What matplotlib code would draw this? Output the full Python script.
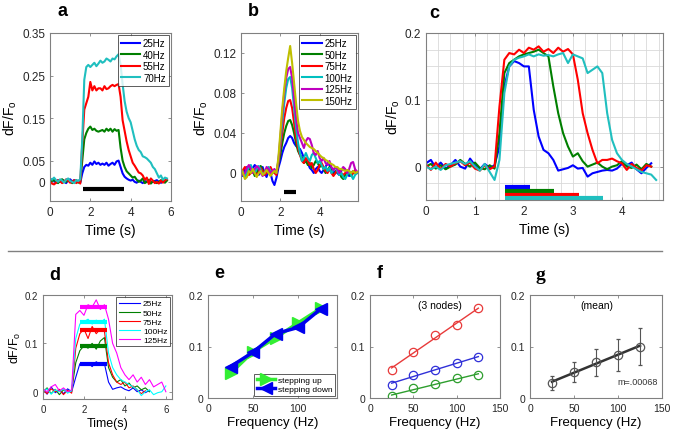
import numpy as np
import matplotlib
matplotlib.use('Agg')
import matplotlib.pyplot as plt
from matplotlib.lines import Line2D
from matplotlib.ticker import FormatStrFormatter

plt.rcParams['font.family'] = ['Liberation Sans', 'DejaVu Sans']
plt.rcParams['mathtext.fontset'] = 'custom'
plt.rcParams['mathtext.rm'] = 'Liberation Sans'
plt.rcParams['mathtext.it'] = 'Liberation Sans:italic'

# ---- panel a : long trains, 0.1 s samples ----
a_labels = ['25Hz', '40Hz', '55Hz', '70Hz']
a_colors = ['#0000ff', '#007f00', '#ff0000', '#20bfbf']
a_dt = 0.1
a_25 = [0.003, 0.006, 0.002, -0.002, 0.004, 0.000, 0.005, 0.002, -0.003, 0.004, 0.006, 0.001, 0.004, 0.000, 0.003, -0.002,
        0.020, 0.035, 0.040, 0.038, 0.045, 0.040, 0.048, 0.042, 0.045, 0.040, 0.043, 0.040, 0.045, 0.038, 0.042, 0.045,
        0.040, 0.048, 0.050, 0.035, 0.020, 0.012, 0.008, 0.005, 0.003, 0.005, 0.000, -0.002, 0.003, 0.000, -0.003, 0.002,
        0.000, 0.003, -0.002, 0.000, 0.002, 0.004, 0.000, -0.002]
a_40 = [-0.002, 0.002, 0.005, 0.000, -0.003, 0.003, 0.006, 0.002, 0.000, 0.005, 0.002, -0.003, 0.001, 0.004, -0.002, 0.000,
        0.050, 0.100, 0.115, 0.125, 0.130, 0.122, 0.125, 0.120, 0.118, 0.120, 0.122, 0.118, 0.125, 0.120, 0.125, 0.118,
        0.124, 0.120, 0.122, 0.080, 0.050, 0.035, 0.025, 0.020, 0.015, 0.010, 0.012, 0.005, 0.000, 0.003, 0.008, -0.003,
        0.000, 0.005, -0.004, 0.002, 0.000, -0.003, 0.000, 0.004, 0.002, -0.002, 0.003]
a_55 = [0.000, -0.004, -0.006, -0.002, 0.004, 0.002, -0.003, 0.000, 0.006, 0.003, -0.002, 0.000, 0.004, -0.003, 0.002, -0.004,
        0.090, 0.170, 0.185, 0.200, 0.235, 0.215, 0.225, 0.215, 0.220, 0.220, 0.215, 0.225, 0.218, 0.220, 0.225, 0.228,
        0.225, 0.228, 0.230, 0.200, 0.145, 0.120, 0.095, 0.075, 0.060, 0.045, 0.038, 0.030, 0.022, 0.020, 0.015, 0.005,
        0.010, -0.005, 0.008, 0.003, -0.003, 0.000, -0.004, 0.003, -0.002, 0.004, 0.006]
a_70 = [0.008, 0.005, 0.010, 0.004, 0.000, 0.006, 0.003, -0.002, 0.005, 0.008, 0.002, 0.000, -0.003, 0.004, 0.002, 0.006,
        0.100, 0.240, 0.270, 0.275, 0.270, 0.275, 0.280, 0.272, 0.278, 0.285, 0.280, 0.283, 0.290, 0.287, 0.283, 0.290,
        0.288, 0.295, 0.300, 0.275, 0.230, 0.190, 0.165, 0.150, 0.140, 0.120, 0.100, 0.085, 0.075, 0.070, 0.060, 0.058,
        0.055, 0.050, 0.045, 0.035, 0.030, 0.020, 0.010, 0.015, 0.005, 0.010, 0.008]
a_stim = (1.65, 3.65)

# ---- panel b : short trains, 0.1 s samples ----
b_labels = ['25Hz', '50Hz', '75Hz', '100Hz', '125Hz', '150Hz']
b_colors = ['#0000ff', '#007f00', '#ff0000', '#00bfbf', '#bf00bf', '#bfbf00']
b_dt = 0.1
b_25 = [0.000, -0.003, 0.003, 0.006, 0.004, 0.000, 0.005, 0.008, 0.004, -0.002, 0.003, 0.006, 0.000, -0.004, 0.002, 0.000,
        -0.008, -0.012, -0.005, 0.005, 0.012, 0.020, 0.026, 0.030, 0.035, 0.037, 0.035, 0.030, 0.027, 0.025, 0.024, 0.020,
        0.015, 0.012, 0.010, 0.005, 0.003, 0.000, 0.004, 0.006, 0.002, 0.000, 0.003, 0.006, 0.010, 0.008, 0.004, 0.000,
        0.002, 0.000, -0.002, 0.002, 0.005, 0.003, 0.000, -0.003, 0.000, 0.002, 0.000, 0.001]
b_50 = [0.002, 0.000, -0.004, 0.000, 0.004, 0.006, 0.002, -0.003, 0.000, 0.004, 0.007, 0.003, 0.000, 0.004, 0.002, -0.002,
        0.000, 0.003, 0.000, 0.008, 0.018, 0.030, 0.040, 0.047, 0.052, 0.053, 0.048, 0.040, 0.030, 0.022, 0.018, 0.015,
        0.010, 0.012, 0.008, 0.010, 0.005, 0.008, 0.012, 0.010, 0.006, 0.008, 0.004, 0.000, 0.003, 0.006, 0.002, -0.002,
        0.000, 0.004, 0.002, -0.004, -0.006, -0.002, 0.002, 0.000, -0.003, 0.000, 0.002, 0.000]
b_75 = [0.000, 0.003, 0.006, 0.002, -0.002, 0.000, 0.004, 0.002, -0.003, 0.000, 0.005, 0.002, -0.002, 0.000, 0.004, 0.006,
        0.002, 0.000, -0.002, 0.010, 0.025, 0.040, 0.055, 0.065, 0.072, 0.073, 0.065, 0.050, 0.035, 0.025, 0.018, 0.012,
        0.010, 0.015, 0.012, 0.008, 0.010, 0.004, 0.000, 0.003, 0.008, 0.010, 0.006, 0.002, 0.000, 0.004, 0.000, -0.003,
        0.000, 0.004, 0.002, 0.000, -0.002, 0.000, 0.003, 0.001, -0.002, 0.000, 0.003, 0.001]
b_100 = [0.003, 0.000, -0.004, 0.002, 0.006, 0.008, 0.003, 0.000, 0.004, 0.007, 0.003, -0.002, 0.000, 0.004, 0.006, 0.002,
         0.000, 0.003, 0.000, 0.012, 0.030, 0.050, 0.070, 0.085, 0.094, 0.096, 0.085, 0.065, 0.045, 0.030, 0.020, 0.012,
         0.015, 0.020, 0.015, 0.012, 0.018, 0.020, 0.015, 0.010, 0.012, 0.008, 0.004, 0.006, 0.002, 0.005, 0.000, 0.003,
         0.006, 0.002, -0.002, 0.000, -0.004, -0.006, -0.002, 0.002, -0.002, -0.006, -0.002, 0.000]
b_125 = [0.002, -0.002, 0.000, 0.005, 0.008, 0.004, 0.000, 0.004, 0.007, 0.005, 0.000, -0.003, 0.000, 0.006, 0.004, 0.000,
         0.002, 0.004, 0.000, 0.012, 0.035, 0.060, 0.080, 0.095, 0.104, 0.106, 0.095, 0.075, 0.055, 0.040, 0.035, 0.030,
         0.025, 0.032, 0.035, 0.034, 0.028, 0.020, 0.018, 0.022, 0.015, 0.012, 0.015, 0.010, 0.008, 0.012, 0.006, 0.003,
         0.006, 0.004, 0.000, 0.003, 0.006, 0.004, 0.000, 0.004, 0.010, 0.011, 0.004, 0.001]
b_150 = [0.004, 0.000, -0.006, -0.004, 0.002, 0.000, 0.004, 0.000, -0.004, 0.000, 0.002, -0.002, 0.000, 0.003, 0.000, -0.003,
         0.000, 0.002, 0.000, 0.015, 0.040, 0.065, 0.085, 0.102, 0.115, 0.127, 0.110, 0.090, 0.070, 0.052, 0.042, 0.036,
         0.033, 0.030, 0.028, 0.026, 0.025, 0.024, 0.022, 0.020, 0.018, 0.016, 0.015, 0.013, 0.012, 0.010, 0.009, 0.008,
         0.006, 0.006, 0.004, 0.004, 0.003, 0.002, 0.003, 0.002, 0.000, 0.002, 0.000, 0.001]
b_stim = (2.2, 2.8)

# ---- panel c : one node, different train lengths ----
c_colors = ['#0000ff', '#007f00', '#ff0000', '#20bfbf']
c_dt = 0.1
c_blue = [0.005, 0.010, -0.002, 0.006, -0.003, 0.002, 0.010, 0.000, -0.003, 0.012, 0.002, -0.004, 0.004, -0.002, 0.002,
          0.030, 0.120, 0.150, 0.158, 0.155, 0.150, 0.150, 0.085, 0.045, 0.025, 0.020, 0.010, -0.006, -0.004, -0.002,
          0.002, -0.003, -0.002, -0.015, -0.010, -0.008, -0.006, -0.005, -0.006, -0.003, 0.004, 0.002, 0.006, -0.004,
          -0.010, -0.002, 0.005]
c_green = [0.000, 0.004, -0.003, 0.002, -0.004, 0.000, 0.003, 0.010, 0.004, 0.000, 0.006, -0.002, -0.004, 0.002, -0.003,
           0.050, 0.140, 0.155, 0.160, 0.165, 0.168, 0.170, 0.172, 0.175, 0.170, 0.165, 0.120, 0.080, 0.050, 0.030,
           0.015, 0.020, 0.008, 0.000, 0.003, 0.006, 0.000, -0.004, 0.000, 0.002, 0.008, 0.000, -0.002, 0.003, -0.004,
           0.004, 0.000]
c_red = [0.003, -0.005, 0.006, -0.004, 0.004, 0.000, 0.005, 0.008, 0.002, 0.006, -0.003, -0.006, 0.002, -0.004, 0.000,
         0.090, 0.160, 0.170, 0.168, 0.175, 0.170, 0.178, 0.175, 0.180, 0.172, 0.176, 0.170, 0.178, 0.172, 0.176,
         0.168, 0.130, 0.080, 0.050, 0.025, 0.005, 0.010, 0.010, 0.012, 0.008, 0.005, -0.005, 0.004, -0.002, -0.006,
         0.002, 0.000]
c_cyan = [0.000, -0.004, 0.000, -0.005, 0.002, 0.004, 0.006, 0.008, 0.004, 0.008, 0.000, -0.006, 0.004, -0.008, -0.020,
          0.010, 0.110, 0.150, 0.160, 0.163, 0.165, 0.168, 0.165, 0.168, 0.166, 0.167, 0.165, 0.168, 0.170, 0.155,
          0.168, 0.165, 0.162, 0.140, 0.145, 0.150, 0.140, 0.080, 0.040, 0.020, 0.010, 0.004, 0.000, -0.004, -0.008,
          -0.010, -0.012, -0.020]
c_start = 1.62
c_ends = [2.12, 2.62, 3.12, 3.62]
c_barlevels = [-0.031, -0.037, -0.042, -0.047]

# ---- panel d : clamped plateaus, 0.2 s samples ----
d_labels = ['25Hz', '50Hz', '75Hz', '100Hz', '125Hz']
d_colors = ['#0000ff', '#008000', '#ff0000', '#00ffff', '#ff00ff']
d_dt = 0.2
d_25 = [0.005, -0.005, 0.010, -0.002, 0.004, -0.004, 0.006, 0.000, 0.030, 0.058, 0.055, 0.060, 0.052, 0.062, 0.056,
        0.058, 0.020, 0.005, 0.008, 0.010, 0.005, 0.002, 0.008, 0.000, 0.004, -0.002, 0.003]
d_50 = [0.000, 0.008, -0.004, 0.005, -0.006, 0.004, 0.000, 0.003, 0.060, 0.085, 0.095, 0.090, 0.100, 0.088, 0.105,
        0.112, 0.050, 0.030, 0.020, 0.025, 0.012, 0.018, 0.008, 0.012, 0.004, 0.008, 0.000]
d_75 = [0.004, -0.004, 0.006, 0.000, 0.005, -0.006, 0.003, -0.003, 0.090, 0.120, 0.130, 0.110, 0.135, 0.120, 0.130,
        0.125, 0.060, 0.035, 0.020, 0.015, 0.020, 0.008, 0.012, 0.004, -0.004, 0.002]
d_100 = [0.000, 0.006, -0.005, 0.004, 0.000, 0.006, -0.003, 0.002, 0.110, 0.140, 0.145, 0.150, 0.140, 0.148, 0.142,
         0.150, 0.080, 0.050, 0.035, 0.025, 0.020, 0.015, 0.010, 0.005, -0.008, 0.000, 0.004, -0.006, -0.002, 0.000,
         0.012]
d_125 = [0.006, 0.000, 0.010, 0.015, 0.002, 0.008, 0.000, 0.004, 0.160, 0.168, 0.158, 0.180, 0.175, 0.190, 0.170,
         0.180, 0.150, 0.100, 0.080, 0.050, 0.035, 0.025, 0.035, 0.020, 0.030, 0.015, 0.025, 0.010, 0.015, 0.020,
         0.000]
d_means = [0.058, 0.095, 0.127, 0.145, 0.175]
d_hold = (1.8, 3.15)

# ---- panel e : stepping up / down ----
freqs = [25, 50, 75, 100, 125]
e_up = [0.048, 0.090, 0.117, 0.146, 0.174]
e_down = [0.061, 0.089, 0.125, 0.137, 0.173]

# ---- panel f : three nodes ----
f_red = [0.055, 0.089, 0.123, 0.141, 0.174]
f_blue = [0.026, 0.045, 0.055, 0.068, 0.079]
f_green = [0.003, 0.019, 0.027, 0.038, 0.045]

# ---- panel g : mean +- sd ----
g_mean = [0.029, 0.051, 0.069, 0.084, 0.100]
g_err = [0.014, 0.019, 0.026, 0.031, 0.035]

YLAB = 'dF/F$_\\mathrm{o}$'
EDGE = '#808080'


def style(ax, fs=8.5):
    for s in ax.spines.values():
        s.set_color(EDGE)
        s.set_linewidth(0.8)
    ax.tick_params(which='major', direction='in', length=2.5, width=0.6, color=EDGE,
                   labelsize=fs, labelcolor='#262626', top=True, right=True)
    ax.tick_params(which='minor', length=0)
    ax.yaxis.set_major_formatter(FormatStrFormatter('%g'))


def tvec(v, dt):
    return np.arange(len(v)) * dt


def legend(ax, fs, loc='upper right', hl=2.0):
    lg = ax.legend(loc=loc, fontsize=fs, frameon=True, fancybox=False, borderaxespad=0.25,
                   handlelength=hl, handletextpad=0.3, labelspacing=0.15, borderpad=0.3)
    lg.get_frame().set_edgecolor('#333333')
    lg.get_frame().set_linewidth(0.7)
    return lg


def main():
    fig = plt.figure(figsize=(6.75, 4.39), dpi=100)
    W, H = 675.0, 439.0

    def box(l, r, t, b):
        return [l / W, 1 - b / H, (r - l) / W, (b - t) / H]

    # a
    ax = fig.add_axes(box(50, 171, 34, 202))
    for v, c, lab in zip([a_25, a_40, a_55, a_70], a_colors, a_labels):
        ax.plot(tvec(v, a_dt), v, color=c, lw=1.5, label=lab)
    ax.plot(a_stim, [-0.016, -0.016], color='k', lw=3, solid_capstyle='butt')
    ax.set_xlim(0, 6)
    ax.set_ylim(-0.045, 0.35)
    ax.set_xticks([0, 2, 4, 6])
    ax.set_yticks([0, 0.05, 0.15, 0.25, 0.35])
    style(ax)
    ax.set_xlabel('Time (s)', fontsize=10)
    ax.set_ylabel(YLAB, fontsize=10, labelpad=2)
    legend(ax, 7)

    # b
    ax = fig.add_axes(box(241, 358, 34, 202))
    for v, c, lab in zip([b_25, b_50, b_75, b_100, b_125, b_150], b_colors, b_labels):
        ax.plot(tvec(v, b_dt), v, color=c, lw=1.5, label=lab)
    ax.plot(b_stim, [-0.0185, -0.0185], color='k', lw=3, solid_capstyle='butt')
    ax.set_xlim(0, 5.95)
    ax.set_ylim(-0.028, 0.14)
    ax.set_xticks([0, 2, 4])
    ax.set_yticks([0, 0.04, 0.08, 0.12])
    style(ax)
    ax.set_xlabel('Time (s)', fontsize=10)
    ax.set_ylabel(YLAB, fontsize=10, labelpad=2)
    legend(ax, 7)

    # c
    ax = fig.add_axes(box(426, 663, 34, 201))
    ax.set_xticks(np.arange(0, 4.85, 0.25), minor=True)
    ax.set_yticks(np.arange(-0.05, 0.2001, 0.025), minor=True)
    ax.grid(True, which='both', color='#d9d9d9', lw=0.6)
    ax.set_axisbelow(True)
    for v, c in zip([c_blue, c_green, c_red, c_cyan], c_colors):
        ax.plot(tvec(v, c_dt), v, color=c, lw=1.5)
    for e, y, c in zip(c_ends, c_barlevels, c_colors):
        ax.plot([c_start, e], [y, y], color=c, lw=3, solid_capstyle='butt')
    ax.set_xlim(0, 4.84)
    ax.set_ylim(-0.05, 0.2)
    ax.set_xticks([0, 1, 2, 3, 4])
    ax.set_yticks([0, 0.1, 0.2])
    style(ax)
    ax.set_xlabel('Time (s)', fontsize=10)
    ax.set_ylabel(YLAB, fontsize=10, labelpad=2)

    # d
    ax = fig.add_axes(box(43, 172, 296, 400))
    for v, c, lab in zip([d_25, d_50, d_75, d_100, d_125], d_colors, d_labels):
        ax.plot(tvec(v, d_dt), v, color=c, lw=0.8, label=lab)
    for m, c in zip(d_means, d_colors):
        ax.plot(d_hold, [m, m], color=c, lw=3, solid_capstyle='butt')
    ax.set_xlim(0, 6.3)
    ax.set_ylim(-0.015, 0.2)
    ax.set_xticks([0, 2, 4, 6])
    ax.set_yticks([0, 0.1, 0.2])
    style(ax, 7)
    ax.set_xlabel('Time(s)', fontsize=9, labelpad=2)
    ax.set_ylabel(YLAB, fontsize=9, labelpad=1)
    legend(ax, 6, hl=2.6)

    # e
    ax = fig.add_axes(box(208, 337, 296, 399))
    ax.plot(freqs, e_up, color='#33ee33', lw=2.5, marker='>', ms=8, label='stepping up')
    ax.plot(freqs, e_down, color='#0000ee', lw=2.5, marker='<', ms=8, label='stepping down')
    ax.set_xlim(0, 143)
    ax.set_ylim(0, 0.2)
    ax.set_xticks([0, 50, 100])
    ax.set_yticks([0, 0.1, 0.2])
    style(ax, 7.5)
    ax.set_xlabel('Frequency (Hz)', fontsize=9.5, labelpad=2)
    legend(ax, 6, loc='lower right', hl=2.2)

    # f
    ax = fig.add_axes(box(370, 500, 296, 399))
    for v, c in zip([f_red, f_blue, f_green], ['#e83a3a', '#3030d8', '#2e9e2e']):
        k, b0 = np.polyfit(freqs, v, 1)
        ax.plot(freqs, k * np.array(freqs) + b0, color=c, lw=1)
        ax.plot(freqs, v, 'o', mfc='none', mec=c, ms=6, mew=0.9)
    ax.text(0.54, 0.9, '(3 nodes)', transform=ax.transAxes, ha='center', va='center', fontsize=7.5)
    ax.set_xlim(0, 150)
    ax.set_ylim(0, 0.2)
    ax.set_xticks([0, 50, 100, 150])
    ax.set_yticks([0, 0.1, 0.2])
    style(ax, 7.5)
    ax.set_xlabel('Frequency (Hz)', fontsize=9.5, labelpad=2)

    # g
    ax = fig.add_axes(box(530, 662, 296, 399))
    k, b0 = np.polyfit(freqs, g_mean, 1)
    ax.plot(freqs, k * np.array(freqs) + b0, color='#333333', lw=1.8)
    ax.errorbar(freqs, g_mean, yerr=g_err, fmt='o', mfc='none', mec='#555555', ms=6, mew=0.9,
                ecolor='#555555', elinewidth=0.8, capsize=1.5)
    ax.text(0.51, 0.9, '(mean)', transform=ax.transAxes, ha='center', va='center', fontsize=7.5)
    ax.text(0.97, 0.16, 'm=.00068', transform=ax.transAxes, ha='right', va='center', fontsize=6.5,
            color='#333333')
    ax.set_xlim(0, 150)
    ax.set_ylim(0, 0.2)
    ax.set_xticks([0, 50, 100, 150])
    ax.set_yticks([0, 0.1, 0.2])
    style(ax, 7.5)
    ax.set_xlabel('Frequency (Hz)', fontsize=9.5, labelpad=2)

    # panel letters
    for ch, x, y in [('a', 63, 12), ('b', 253, 12), ('c', 434, 13), ('d', 55, 275), ('e', 219, 274), ('f', 380, 274)]:
        fig.text(x / W, 1 - y / H, ch, ha='center', va='center', fontsize=13, fontweight='bold')
    fig.text(540 / W, 1 - 276 / H, 'g', ha='center', va='center', fontsize=14, fontweight='bold',
             family='Liberation Serif')

    fig.add_artist(Line2D([8 / W, 662 / W], [1 - 252 / H, 1 - 252 / H], color='#808080', lw=1))

    fig.savefig('out.png', dpi=100)


if __name__ == '__main__':
    main()
